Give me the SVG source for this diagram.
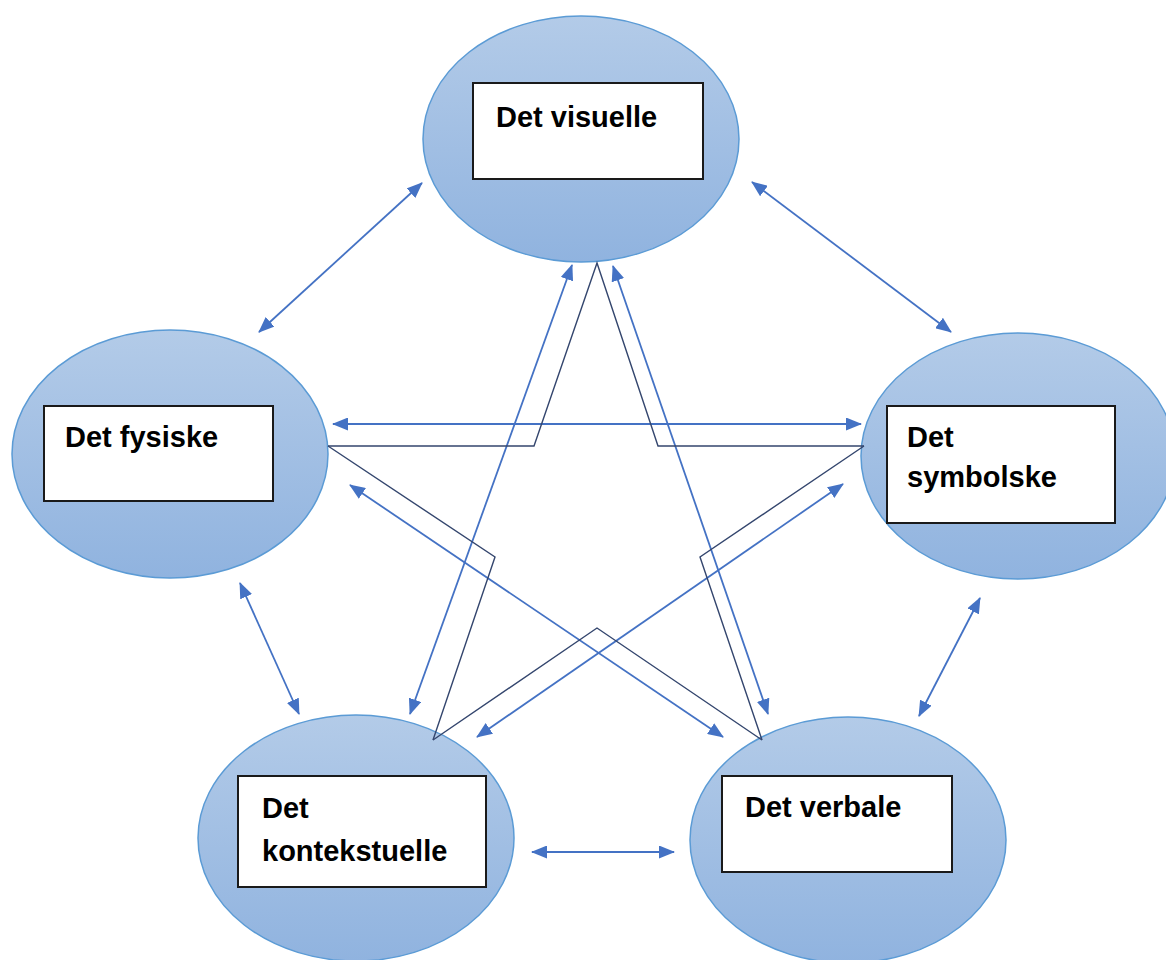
<svg xmlns="http://www.w3.org/2000/svg" width="1166" height="960" viewBox="0 0 1166 960">
<defs>
<linearGradient id="fillg" x1="0" y1="0" x2="0" y2="1">
<stop offset="0" stop-color="#b3cbe8"/>
<stop offset="1" stop-color="#90b3df"/>
</linearGradient>
<marker id="ah" viewBox="0 0 16 13" refX="15" refY="6.5" markerWidth="16" markerHeight="13" markerUnits="userSpaceOnUse" orient="auto-start-reverse">
<path d="M0,0 L16,6.5 L0,13 z" fill="#4472c4"/>
</marker>
</defs>
<style>
.ell{fill:url(#fillg);stroke:#5b9bd5;stroke-width:1.5}
.box{fill:#fff;stroke:#1a1a1a;stroke-width:2}
.lbl{font-family:"Liberation Sans",Arial,sans-serif;font-weight:bold;font-size:29px;fill:#000}
.arr{stroke:#4472c4;stroke-width:1.8;fill:none;marker-start:url(#ah);marker-end:url(#ah)}
.dk{stroke:#34466e;stroke-width:1.4;fill:none;stroke-linejoin:miter}
</style>
<rect width="1166" height="960" fill="#fff"/>
<g id="node-visuelle">
<ellipse class="ell" cx="581" cy="139" rx="158" ry="123"/>
<rect class="box" x="473" y="83" width="230" height="96"/>
<text class="lbl" x="496" y="127">Det visuelle</text>
</g>
<g id="node-fysiske">
<ellipse class="ell" cx="170" cy="454" rx="158" ry="124"/>
<rect class="box" x="44" y="406" width="229" height="95"/>
<text class="lbl" x="65" y="447">Det fysiske</text>
</g>
<g id="node-symbolske">
<ellipse class="ell" cx="1018" cy="456" rx="157" ry="123"/>
<rect class="box" x="887" y="406" width="228" height="117"/>
<text class="lbl" x="907" y="447">Det</text>
<text class="lbl" x="907" y="487">symbolske</text>
</g>
<g id="node-kontekstuelle">
<ellipse class="ell" cx="356" cy="838" rx="158" ry="123"/>
<rect class="box" x="238" y="776" width="248" height="111"/>
<text class="lbl" x="262" y="818">Det</text>
<text class="lbl" x="262" y="861">kontekstuelle</text>
</g>
<g id="node-verbale">
<ellipse class="ell" cx="848" cy="840" rx="158" ry="123"/>
<rect class="box" x="722" y="776" width="230" height="96"/>
<text class="lbl" x="745" y="817">Det verbale</text>
</g>
<g id="connectors">
<line class="arr" x1="422" y1="183" x2="259" y2="332"/>
<line class="arr" x1="752" y1="182" x2="951" y2="332"/>
<line class="arr" x1="240" y1="583" x2="299" y2="714"/>
<line class="arr" x1="980" y1="598" x2="919" y2="716"/>
<line class="arr" x1="532" y1="852" x2="674" y2="852"/>
<line class="arr" x1="333" y1="424" x2="861" y2="424"/>
<line class="arr" x1="572" y1="265" x2="410" y2="714"/>
<line class="arr" x1="613" y1="266" x2="768" y2="714"/>
<line class="arr" x1="350" y1="485" x2="723" y2="737"/>
<line class="arr" x1="843" y1="484" x2="477" y2="737"/>
<polyline class="dk" points="328,446 534,446 597,263 658,446 864,446"/>
<polyline class="dk" points="328,446 495,557 433,740"/>
<polyline class="dk" points="433,740 597,628 762,740"/>
<polyline class="dk" points="762,740 700,557 864,446"/>
</g>
</svg>
